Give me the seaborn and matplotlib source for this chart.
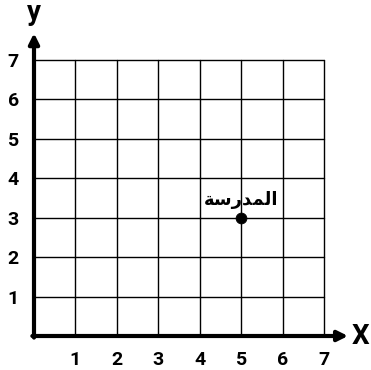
import matplotlib
matplotlib.use("Agg")
import matplotlib.pyplot as plt
import seaborn as sns
import pandas as pd

# Data
point_x = [5]
point_y = [3]
# "المدرسة" written as shaped presentation forms in visual (left-to-right) order
point_label = ["\uFE94\uFEB3\uFEAD\uFEAA\uFEE4\uFEDF\uFE8D"]
x_ticks = [1, 2, 3, 4, 5, 6, 7]
y_ticks = [1, 2, 3, 4, 5, 6, 7]
x_name = "X"
y_name = "y"

sns.set_style("white")
plt.rcParams['font.family'] = ['Roboto', 'DejaVu Sans']
plt.rcParams['text.color'] = 'black'
plt.rcParams['xtick.color'] = 'black'
plt.rcParams['ytick.color'] = 'black'

W, H = 371, 370
fig = plt.figure(figsize=(W / 100, H / 100), dpi=100)
ax = fig.add_axes([34 / W, (H - 336) / H, 290 / W, 276 / H])

df = pd.DataFrame({"x": point_x, "y": point_y, "label": point_label})
sns.scatterplot(data=df, x="x", y="y", ax=ax, color="black", s=60,
                edgecolor="black", zorder=5, clip_on=False)

ax.set_xlim(0, 7)
ax.set_ylim(0, 7)
ax.set_xticks(range(0, 8))
ax.set_yticks(range(0, 8))
ax.grid(True, color="black", linewidth=1.0)
for gl in ax.get_xgridlines() + ax.get_ygridlines():
    gl.set_clip_on(False)
ax.set_xticklabels([""] + [str(t) for t in x_ticks])
ax.set_yticklabels([""] + [str(t) for t in y_ticks])
ax.tick_params(axis="both", length=0, labelsize=14, labelcolor="black")
ax.tick_params(axis="x", pad=11)
ax.tick_params(axis="y", pad=11)
for lab in ax.get_xticklabels() + ax.get_yticklabels():
    lab.set_fontweight("bold")
ax.set_xlabel("")
ax.set_ylabel("")

for s in ["top", "right", "left", "bottom"]:
    ax.spines[s].set_visible(False)

# axes with arrows
ax.annotate("", xy=(7.58, 0), xytext=(-0.04, 0), xycoords="data",
            arrowprops=dict(arrowstyle="-|>,head_length=0.6,head_width=0.3",
                            color="black", lw=3, shrinkA=0, shrinkB=0),
            annotation_clip=False)
ax.annotate("", xy=(0, 7.68), xytext=(0, -0.04), xycoords="data",
            arrowprops=dict(arrowstyle="-|>,head_length=0.6,head_width=0.3",
                            color="black", lw=3, shrinkA=0, shrinkB=0),
            annotation_clip=False)
ax.text(7.66, 0, x_name, fontsize=20, fontweight="bold", ha="left", va="center")
ax.text(0, 7.85, y_name, fontsize=20, fontweight="bold", ha="center", va="bottom")

for xv, yv, lbl in zip(point_x, point_y, point_label):
    ax.text(xv, yv + 0.45, lbl, fontsize=13, fontweight="bold",
            family=["DejaVu Sans"], ha="center", va="center")

fig.savefig("out.png", dpi=100)
